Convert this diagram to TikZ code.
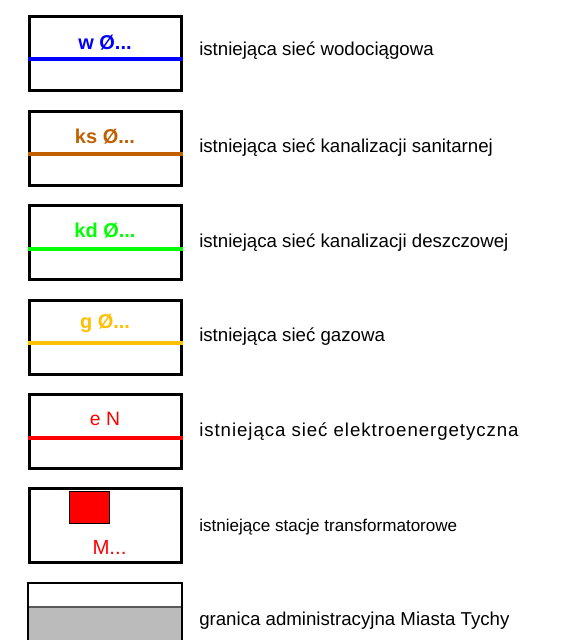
\documentclass[tikz,border=0pt]{standalone}
\usepackage{fontspec}
\setmainfont{Liberation Sans}
\usetikzlibrary{positioning}
\definecolor{water}{RGB}{0,0,255}
\definecolor{sewer}{RGB}{192,96,0}
\definecolor{storm}{RGB}{0,255,0}
\definecolor{gasline}{RGB}{255,192,0}
\definecolor{power}{RGB}{255,0,0}
\definecolor{border}{RGB}{187,187,187}

\begin{document}
\begin{tikzpicture}[
  x=0.75pt,y=-0.75pt,
  keybox/.style={draw=black,line width=2.2pt,fill=white,minimum width=114pt,
                 minimum height=55.5pt,inner sep=0pt,anchor=north west},
  keyline/.style={line width=3pt},
  keytext/.style={font=\fontsize{15pt}{17pt}\selectfont\bfseries,inner sep=0pt},
  desc/.style={font=\fontsize{14pt}{16pt}\selectfont,anchor=west,inner sep=0pt}
]
\useasboundingbox (0,0) rectangle (564,640);
% boxes of the legend, one per network
\node[keybox] (bw) at (28,15)  {};
\node[keybox] (bs) at (28,110) {};
\node[keybox] (bd) at (28,204) {};
\node[keybox] (bg) at (28,299) {};
\node[keybox] (be) at (28,393) {};
\node[keybox] (bt) at (28,487) {};

% coloured network lines
\draw[keyline,water]   ([yshift=-33pt]bw.north west) -- ([yshift=-33pt]bw.north east);
\draw[keyline,sewer]   ([yshift=-33pt]bs.north west) -- ([yshift=-33pt]bs.north east);
\draw[keyline,storm]   ([yshift=-34pt]bd.north west) -- ([yshift=-34pt]bd.north east);
\draw[keyline,gasline] ([yshift=-33pt]bg.north west) -- ([yshift=-33pt]bg.north east);
\draw[keyline,power]   ([yshift=-34pt]be.north west) -- ([yshift=-34pt]be.north east);

% labels inside the boxes
\node[keytext,text=water]   (tw) at (105,43)  {w Ø...};
\node[keytext,text=sewer]   (ts) at (105,137) {ks Ø...};
\node[keytext,text=storm]   (td) at (105,231) {kd Ø...};
\node[keytext,text=gasline] (tg) at (105,323) {g Ø...};
\node[keytext,text=power,font=\fontsize{14.5pt}{17pt}\selectfont] (te) at (105,419) {e N};

% transformer station
\node[draw=black,line width=0.6pt,fill=power,minimum width=30pt,minimum height=24pt,
      inner sep=0pt] (sq) at (89.5,507) {};
\node[text=power,font=\fontsize{15.3pt}{17pt}\selectfont,inner sep=0pt] (tm) at (109.5,547) {M...};

% border of the city
\coordinate (gl) at (28,640);
\coordinate (gr) at (182,640);
\coordinate (gtl) at (28,583);
\coordinate (gtr) at (182,583);
\coordinate (gml) at (28,607);
\coordinate (gmr) at (182,607);
\fill[border] (gml) rectangle (gr);
\draw[line width=1.6pt,black!65] (gml) -- (gmr);
\draw[line width=2.2pt] (gl) -- (gtl) -- (gtr) -- (gr);

% descriptions
\node[desc] (dw) at (199,51)  {istniejąca sieć wodociągowa};
\node[desc] (ds) at (199,148) {istniejąca sieć kanalizacji sanitarnej};
\node[desc] (dd) at (199,243) {istniejąca sieć kanalizacji deszczowej};
\node[desc] (dg) at (199,337) {istniejąca sieć gazowa};
\node[desc,font=\fontsize{14pt}{16pt}\selectfont\addfontfeature{LetterSpace=5}] (de) at (199,432) {istniejąca sieć elektroenergetyczna};
\node[desc,font=\fontsize{12.8pt}{15pt}\selectfont] (dt) at (199,527) {istniejące stacje transformatorowe};
\node[desc] (db) at (199,621) {granica administracyjna Miasta Tychy};
\end{tikzpicture}
\end{document}
